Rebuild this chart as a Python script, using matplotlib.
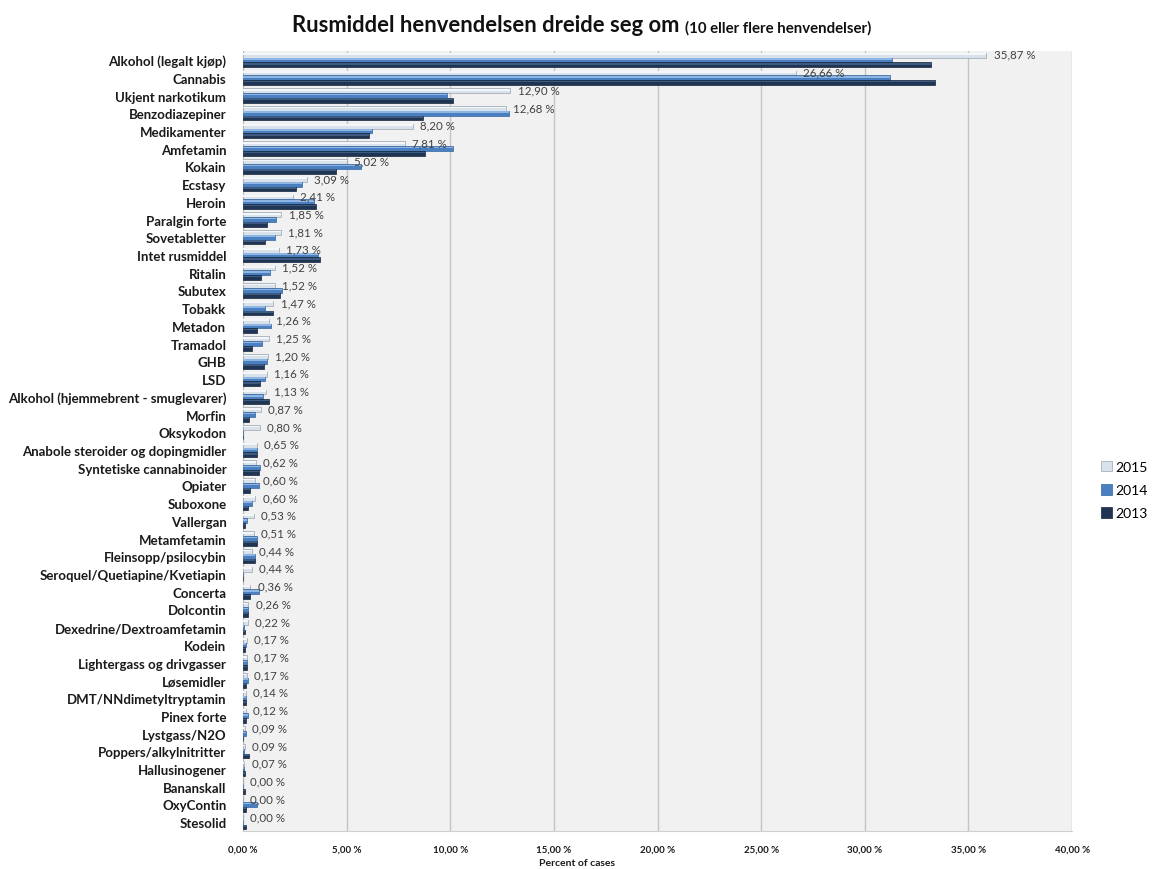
import numpy as np
import matplotlib
matplotlib.use("Agg")
import matplotlib.pyplot as plt
from matplotlib.patches import Patch

plt.rcParams['font.family'] = ['Lato', 'DejaVu Sans']

categories = [
    "Alkohol (legalt kjøp)", "Cannabis", "Ukjent narkotikum", "Benzodiazepiner",
    "Medikamenter", "Amfetamin", "Kokain", "Ecstasy", "Heroin", "Paralgin forte",
    "Sovetabletter", "Intet rusmiddel", "Ritalin", "Subutex", "Tobakk", "Metadon",
    "Tramadol", "GHB", "LSD", "Alkohol (hjemmebrent - smuglevarer)", "Morfin",
    "Oksykodon", "Anabole steroider og dopingmidler", "Syntetiske cannabinoider",
    "Opiater", "Suboxone", "Vallergan", "Metamfetamin", "Fleinsopp/psilocybin",
    "Seroquel/Quetiapine/Kvetiapin", "Concerta", "Dolcontin",
    "Dexedrine/Dextroamfetamin", "Kodein", "Lightergass og drivgasser",
    "Løsemidler", "DMT/NNdimetyltryptamin", "Pinex forte", "Lystgass/N2O",
    "Poppers/alkylnitritter", "Hallusinogener", "Bananskall", "OxyContin", "Stesolid",
]

pct_2015 = [35.87, 26.66, 12.90, 12.68, 8.20, 7.81, 5.02, 3.09, 2.41, 1.85,
            1.81, 1.73, 1.52, 1.52, 1.47, 1.26, 1.25, 1.20, 1.16, 1.13, 0.87,
            0.80, 0.65, 0.62, 0.60, 0.60, 0.53, 0.51, 0.44, 0.44, 0.36, 0.26,
            0.22, 0.17, 0.17, 0.17, 0.14, 0.12, 0.09, 0.09, 0.07, 0.00, 0.00, 0.00]

pct_2014 = [31.3, 31.2, 9.85, 12.85, 6.2, 10.15, 5.7, 2.85, 3.4, 1.6,
            1.55, 3.6, 1.3, 1.9, 1.05, 1.35, 0.9, 1.15, 1.05, 0.97, 0.58,
            0.0, 0.65, 0.8, 0.78, 0.45, 0.2, 0.68, 0.6, 0.0, 0.75, 0.25,
            0.05, 0.15, 0.2, 0.25, 0.15, 0.25, 0.15, 0.05, 0.05, 0.0, 0.65, 0.0]

pct_2013 = [33.2, 33.4, 10.15, 8.7, 6.1, 8.8, 4.5, 2.55, 3.5, 1.15,
            1.05, 3.7, 0.87, 1.8, 1.45, 0.65, 0.45, 1.0, 0.82, 1.25, 0.3,
            0.0, 0.65, 0.75, 0.35, 0.25, 0.1, 0.68, 0.6, 0.0, 0.35, 0.25,
            0.1, 0.1, 0.2, 0.15, 0.15, 0.15, 0.0, 0.3, 0.1, 0.1, 0.15, 0.15]

x_ticks = [0, 5, 10, 15, 20, 25, 30, 35, 40]
years = ["2015", "2014", "2013"]

colors = {"2015": "#d9e1ea", "2014": "#4a7fc1", "2013": "#1f3553"}
highlights = {"2015": "#f4f7fa", "2014": "#8fb5e3", "2013": "#3d5a80"}
edges = {"2015": "#9aa4ae", "2014": "#35659f", "2013": "#15253a"}

fig = plt.figure(figsize=(11.54, 8.7), dpi=100)
ax = fig.add_axes([0.2106, 0.0437, 0.7184, 0.8963])
ax.set_facecolor("#f1f1f1")

n = len(categories)
y = np.arange(n)
h = 0.27
offsets = {"2015": -0.27, "2014": 0.0, "2013": 0.27}
series = {"2015": pct_2015, "2014": pct_2014, "2013": pct_2013}

for yr in years:
    vals = np.array(series[yr])
    yy = y + offsets[yr]
    ax.barh(yy, vals, height=h, color=colors[yr], edgecolor=edges[yr],
            linewidth=0.5, zorder=3)
    # lighter upper strip gives the bars a rounded look
    ax.barh(yy - h * 0.22, vals, height=h * 0.35, color=highlights[yr],
            linewidth=0, zorder=4)

for yi, v in zip(y, pct_2015):
    ax.text(v + 0.35, yi + offsets["2015"] - 0.05, f"{v:.2f} %".replace(".", ","),
            fontsize=8.3, color="#404040", va="center", ha="left", zorder=5)

ax.set_ylim(n - 0.5, -0.5)
ax.set_xlim(0, 40)
ax.set_yticks(y)
ax.set_yticklabels(categories, fontsize=9.5, fontweight="bold", color="#1a1a1a")
ax.set_xticks(x_ticks)
ax.set_xticklabels([f"{t:.2f} %".replace(".", ",") for t in x_ticks],
                   fontsize=7, fontweight="bold", color="#1a1a1a")
ax.tick_params(axis="both", length=0)
ax.tick_params(axis="x", pad=10)
ax.tick_params(axis="y", pad=12)
ax.grid(axis="x", color="#c4c4c4", linewidth=1, zorder=0)
ax.set_axisbelow(True)
for s in ["top", "right"]:
    ax.spines[s].set_visible(False)
ax.spines["left"].set_color("#bcbcbc")
ax.spines["bottom"].set_color("#d0d0d0")

fig.text(0.5, 0.002, "Percent of cases", fontsize=7.5, fontweight="bold",
         ha="center", va="bottom", color="#1a1a1a")

fig.text(679 / 1154, 0.963, "Rusmiddel henvendelsen dreide seg om", fontsize=15.8,
         fontweight="bold", ha="right", va="baseline", color="#111111")
fig.text(685 / 1154, 0.963, "(10 eller flere henvendelser)", fontsize=10.8,
         fontweight="bold", ha="left", va="baseline", color="#111111")

handles = [Patch(facecolor=colors[yr], edgecolor=edges[yr], linewidth=0.5) for yr in years]
fig.legend(handles, years, loc="center left", bbox_to_anchor=(1088 / 1154, 1 - 491 / 870),
           frameon=False, fontsize=10, handlelength=0.8, handleheight=0.8,
           handletextpad=0.3, labelspacing=0.8)

fig.savefig("out.png", dpi=100)
